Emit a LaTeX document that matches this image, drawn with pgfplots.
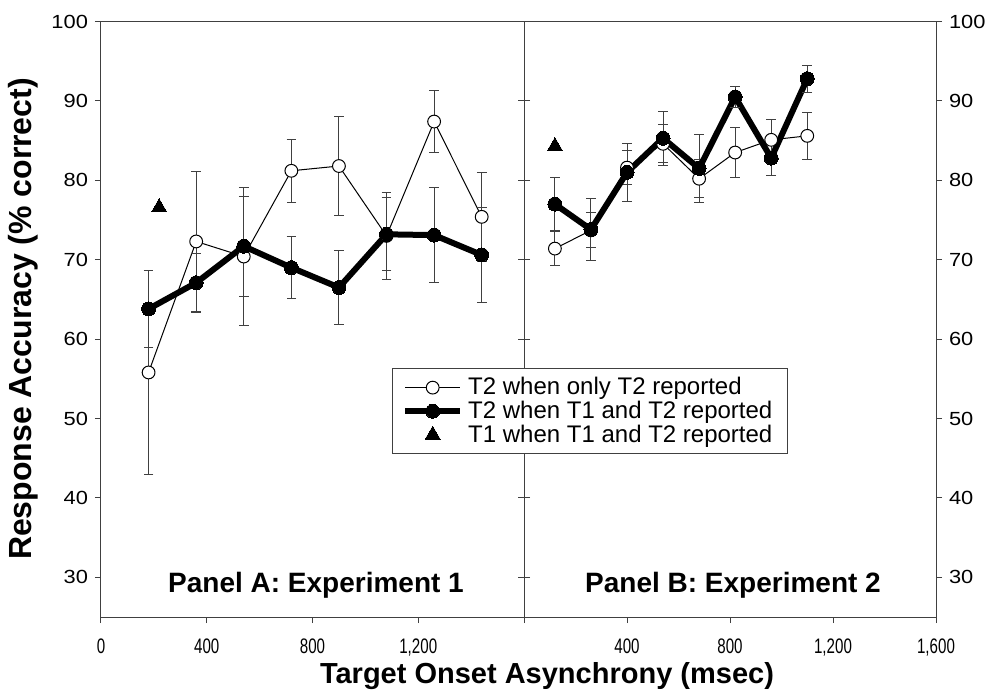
\documentclass[border=0pt]{standalone}
\usepackage{fontspec}
\setmainfont{Liberation Sans}
\usepackage{pgfplots}
\pgfplotsset{compat=1.18}
\usepackage{graphicx}
\newcommand{\ys}[1]{\scalebox{1.15}[1]{#1}}
\newcommand{\xs}[1]{\scalebox{0.72}[1]{#1}}
\definecolor{axc}{gray}{0.25}
\pgfplotsset{
  panel/.style={
    scale only axis, height=297.75pt,
    xmin=0, xmax=1600, ymin=25, ymax=100,
    ytick={30,40,...,100},
    yticklabels={\ys{30},\ys{40},\ys{50},\ys{60},\ys{70},\ys{80},\ys{90},\ys{100}},
    tick align=outside, major tick length=3pt,
    xtick pos=bottom, ytick pos=both,
    axis line style={axc, line width=0.5pt},
    every tick/.style={axc, line width=0.5pt},
    yticklabel style={font=\fontsize{9.5}{10}\selectfont, text=black},
    xticklabel style={font=\fontsize{10.5}{11}\selectfont, text=black, yshift=-4.5pt},
    clip=false,
  },
  oser/.style={black, line width=0.5pt, mark=*, mark size=3.2pt,
    mark options={fill=white, draw=black, line width=0.5pt, solid},
    error bars/y dir=both, error bars/y explicit,
    error bars/error bar style={line width=0.5pt, axc},
    error bars/error mark options={rotate=90, line width=0.5pt, mark size=2.4pt, axc}},
  fser/.style={black, line width=3pt, mark=*, mark size=3.5pt,
    mark options={fill=black, draw=black, line width=0pt, solid},
    error bars/y dir=both, error bars/y explicit,
    error bars/error bar style={line width=0.5pt, axc},
    error bars/error mark options={rotate=90, line width=0.5pt, mark size=2.4pt, axc}},
  tser/.style={only marks, mark=triangle*, mark size=4.3pt, black,
    mark options={fill=black, draw=black, line width=0pt}},
  lcode/.style={legend image code/.code={%
    \draw[mark repeat=2, mark phase=2, ##1] plot coordinates {(0pt,0pt) (13.75pt,0pt) (27.5pt,0pt)};}},
}
\begin{document}
\begin{tikzpicture}
% Panel A
\begin{axis}[panel, width=211.5pt,
  xtick={0,400,800,1200},
  xticklabels={\xs{0},\xs{400},\xs{800},\xs{1,200}},
  yticklabel pos=left]
\addplot[oser] coordinates {
 (180,55.8) +- (0,12.9)
 (360,72.3) +- (0,8.8)
 (540,70.4) +- (0,8.7)
 (720,81.2) +- (0,4.0)
 (900,81.8) +- (0,6.2)
 (1080,73.0) +- (0,5.5)
 (1260,87.4) +- (0,3.9)
 (1440,75.4) +- (0,5.6)
};
\addplot[fser] coordinates {
 (180,63.8) +- (0,4.9)
 (360,67.1) +- (0,3.7)
 (540,71.7) +- (0,6.3)
 (720,69.0) +- (0,3.9)
 (900,66.5) +- (0,4.7)
 (1080,73.2) +- (0,4.6)
 (1260,73.1) +- (0,6.0)
 (1440,70.6) +- (0,6.0)
};
\addplot[tser] coordinates {(220,76.6)};
\end{axis}
% Panel B
\begin{axis}[panel, width=206pt, xshift=211.5pt,
  xtick={0,400,800,1200,1600},
  xticklabels={{},\xs{400},\xs{800},\xs{1,200},\xs{1,600}},
  yticklabel pos=right,
  legend style={at={(-0.3211,0.4176)}, anchor=north west,
    draw=axc, line width=0.5pt, fill=white,
    font=\fontsize{12}{13}\selectfont,
    inner xsep=5pt, inner ysep=3.5pt, row sep=0pt,
    nodes={inner ysep=0.8pt, inner xsep=2.5pt},
    cells={anchor=west}},
  ]
\addplot[oser, lcode] coordinates {
 (120,71.4) +- (0,2.1)
 (260,73.7) +- (0,2.2)
 (400,81.6) +- (0,2.1)
 (540,84.6) +- (0,2.4)
 (680,80.2) +- (0,2.4)
 (820,83.5) +- (0,3.2)
 (960,85.1) +- (0,2.6)
 (1100,85.6) +- (0,3.0)
};
\addlegendentry{T2 when only T2 reported}
\addplot[fser, lcode] coordinates {
 (120,77.0) +- (0,3.3)
 (260,73.8) +- (0,3.9)
 (400,81.0) +- (0,3.7)
 (540,85.3) +- (0,3.4)
 (680,81.5) +- (0,4.3)
 (820,90.5) +- (0,1.3)
 (960,82.8) +- (0,2.2)
 (1100,92.8) +- (0,1.7)
};
\addlegendentry{T2 when T1 and T2 reported}
\addplot[tser, lcode] coordinates {(120,84.3)};
\addlegendentry{T1 when T1 and T2 reported}
\end{axis}
\node[font=\bfseries\fontsize{14}{16}\selectfont] at (107.5pt,16pt) {Panel A: Experiment 1};
\node[font=\bfseries\fontsize{14}{16}\selectfont] at (316pt,16pt) {Panel B: Experiment 2};
\node[font=\bfseries\fontsize{14.5}{16}\selectfont] at (223pt,-29.5pt) {Target Onset Asynchrony (msec)};
\node[font=\bfseries\fontsize{16}{18}\selectfont, rotate=90] at (-39pt,149pt) {Response Accuracy (\% correct)};
\pgfresetboundingbox
\path[use as bounding box] (-50.5pt,-38pt) rectangle (449.5pt,308.5pt);
\end{tikzpicture}
\end{document}
